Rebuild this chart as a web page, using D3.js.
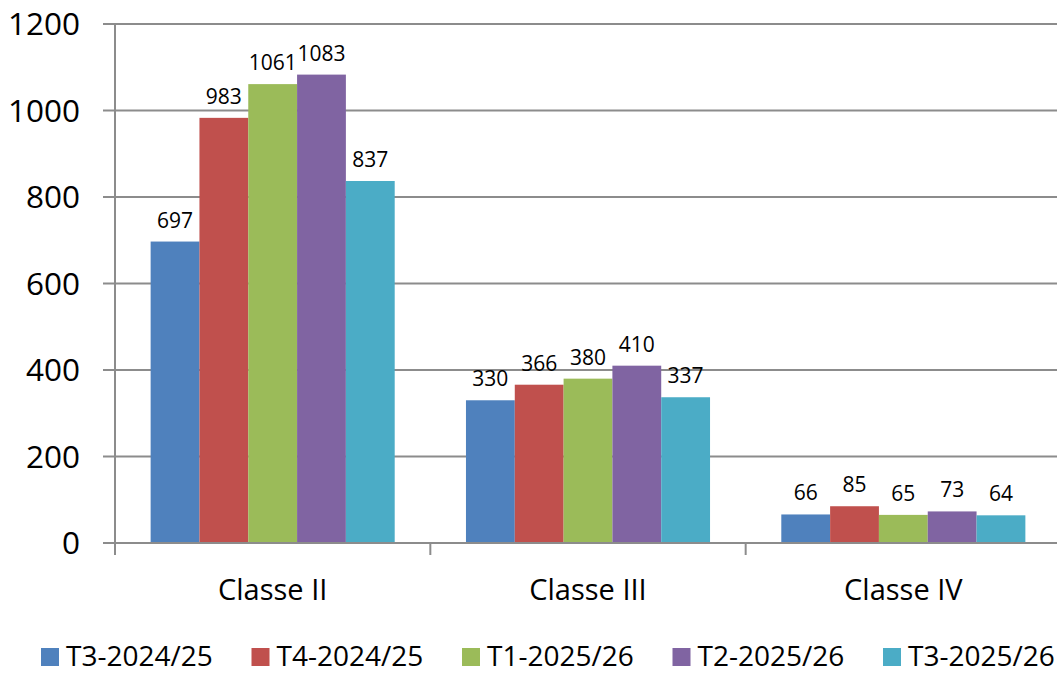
<!DOCTYPE html>
<html>
<head>
<meta charset="utf-8">
<script src="https://cdn.jsdelivr.net/npm/d3@7/dist/d3.min.js"></script>
<style>
  html, body { margin: 0; padding: 0; background: #fff; }
  svg { display: block; }
  text { font-family: "Open Sans", "Noto Sans", sans-serif; fill: #000; }
</style>
</head>
<body>
<svg id="chart" width="1057" height="673"></svg>
<script>
const categories = ["Classe II", "Classe III", "Classe IV"];
const seriesNames = ["T3-2024/25", "T4-2024/25", "T1-2025/26", "T2-2025/26", "T3-2025/26"];
const seriesColors = ["#4F81BD", "#C0504D", "#9BBB59", "#8064A2", "#4BACC6"];
const valuesT3_2425 = [697, 330, 66];
const valuesT4_2425 = [983, 366, 85];
const valuesT1_2526 = [1061, 380, 65];
const valuesT2_2526 = [1083, 410, 73];
const valuesT3_2526 = [837, 337, 64];
const seriesValues = [valuesT3_2425, valuesT4_2425, valuesT1_2526, valuesT2_2526, valuesT3_2526];
const yTicks = [0, 200, 400, 600, 800, 1000, 1200];

const svg = d3.select("#chart");
const plotLeft = 115, plotRight = 1061, plotTop = 24, plotBottom = 543;

const y = d3.scaleLinear().domain([0, 1200]).range([plotBottom, plotTop]);
const x0 = d3.scaleBand().domain(categories).range([plotLeft, plotRight]).padding(0);
const bw = x0.bandwidth();
const x1 = d3.scaleBand().domain(seriesNames).range([bw * 0.113, bw * 0.887]).padding(0);

// gridlines
svg.append("g").selectAll("line").data(yTicks).join("line")
  .attr("x1", plotLeft - 12).attr("x2", 1057)
  .attr("y1", d => y(d)).attr("y2", d => y(d))
  .attr("stroke", "#8c8c8c").attr("stroke-width", 2);

// y axis labels
svg.append("g").selectAll("text").data(yTicks).join("text")
  .attr("x", 80).attr("y", d => y(d)).attr("dy", "0.36em")
  .attr("text-anchor", "end").attr("font-size", 31.5)
  .text(d => d);

// bars
const groups = svg.append("g").selectAll("g").data(categories).join("g")
  .attr("transform", c => `translate(${x0(c)},0)`);

seriesNames.forEach((s, si) => {
  groups.append("rect")
    .attr("x", x1(s)).attr("width", x1.bandwidth())
    .attr("y", (c, ci) => y(seriesValues[si][ci]))
    .attr("height", (c, ci) => plotBottom - y(seriesValues[si][ci]))
    .attr("fill", seriesColors[si]);
  groups.append("text")
    .attr("x", x1(s) + x1.bandwidth() / 2)
    .attr("y", (c, ci) => y(seriesValues[si][ci]) - 14)
    .attr("text-anchor", "middle").attr("font-size", 21)
    .text((c, ci) => seriesValues[si][ci]);
});

// axes lines
svg.append("line").attr("x1", plotLeft).attr("x2", plotLeft).attr("y1", plotTop).attr("y2", plotBottom + 12)
  .attr("stroke", "#8c8c8c").attr("stroke-width", 2);
svg.append("line").attr("x1", plotLeft - 12).attr("x2", 1057).attr("y1", plotBottom).attr("y2", plotBottom)
  .attr("stroke", "#8c8c8c").attr("stroke-width", 2);
// category ticks
const catTicks = categories.map(c => x0(c)).concat([plotRight]);
svg.append("g").selectAll("line").data(catTicks).join("line")
  .attr("x1", d => d).attr("x2", d => d).attr("y1", plotBottom).attr("y2", plotBottom + 12)
  .attr("stroke", "#8c8c8c").attr("stroke-width", 2);

// category labels
svg.append("g").selectAll("text").data(categories).join("text")
  .attr("x", c => x0(c) + bw / 2).attr("y", 600)
  .attr("text-anchor", "middle").attr("font-size", 29)
  .text(c => c);

// legend
const leg = svg.append("g").selectAll("g").data(seriesNames).join("g")
  .attr("transform", (d, i) => `translate(${41 + i * 210.5},648)`);
leg.append("rect").attr("width", 18).attr("height", 18).attr("fill", (d, i) => seriesColors[i]);
leg.append("text").attr("x", 25).attr("y", 18).attr("font-size", 28).text(d => d);
</script>
</body>
</html>
